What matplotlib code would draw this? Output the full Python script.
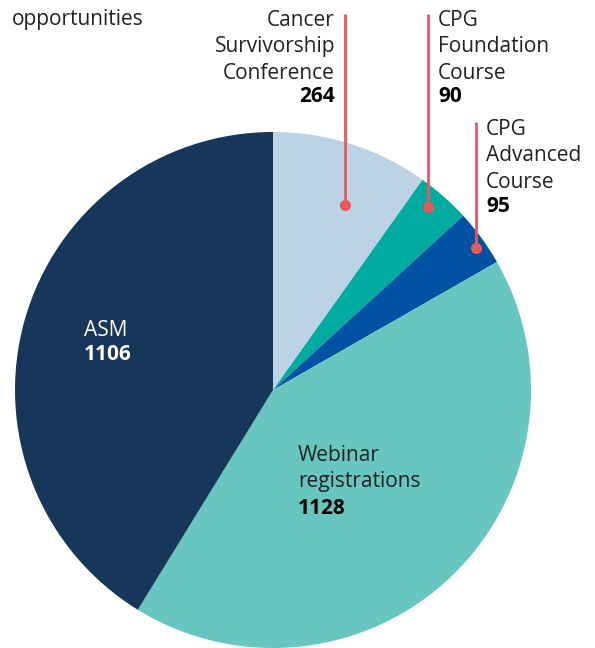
import matplotlib.pyplot as plt

plt.rcParams["font.family"] = ["Open Sans", "DejaVu Sans"]

labels = ["Cancer\nSurvivorship\nConference", "CPG\nFoundation\nCourse", "CPG\nAdvanced\nCourse",
          "Webinar\nregistrations", "ASM"]
values = [264, 90, 95, 1128, 1106]
colors = ["#BCD3E6", "#00ABA0", "#0052A2", "#67C6C0", "#16365A"]

W, H = 595, 648
fig = plt.figure(figsize=(W / 100, H / 100), dpi=100)
ax = fig.add_axes([0, 0, 1, 1])


def py(y):
    # convert from top-down pixel position
    return H - y


cx, cy, r = 273, py(390), 258
ax.pie(values, colors=colors, startangle=90, counterclock=False, center=(cx, cy), radius=r,
       wedgeprops={"linewidth": 0}, frame=True)
ax.set_xlim(0, W)
ax.set_ylim(0, H)
ax.set_aspect("equal")
ax.axis("off")

red = "#E8585C"
# leader lines (x, top, bottom)
leaders = [(345, 14, 205), (428, 14, 207), (476, 122, 248)]
for x, y0, y1 in leaders:
    ax.plot([x, x], [py(y0), py(y1)], color=red, lw=2, solid_capstyle="butt")
    ax.plot(x, py(y1), "o", color=red, ms=7)

fs = 15
txt = dict(fontsize=fs, color="#222222", linespacing=1.33)
bold = dict(fontsize=15, color="black", fontweight="bold")

ax.text(12, py(20), "opportunities", va="center", ha="left", **txt)

ax.text(335, py(10), labels[0], va="top", ha="right", **txt)
ax.text(335, py(96), str(values[0]), va="center", ha="right", **bold)

ax.text(438, py(10), labels[1], va="top", ha="left", **txt)
ax.text(438, py(97), str(values[1]), va="center", ha="left", **bold)

ax.text(486, py(119), labels[2], va="top", ha="left", **txt)
ax.text(486, py(206), str(values[2]), va="center", ha="left", **bold)

ax.text(84, py(330), labels[4], va="center", ha="left", **{**txt, "color": "white"})
ax.text(84, py(355), str(values[4]), va="center", ha="left", **{**bold, "color": "white"})

ax.text(298, py(445), labels[3], va="top", ha="left", **txt)
ax.text(298, py(508), str(values[3]), va="center", ha="left", **bold)

fig.savefig("out.png", dpi=100, facecolor="white")
